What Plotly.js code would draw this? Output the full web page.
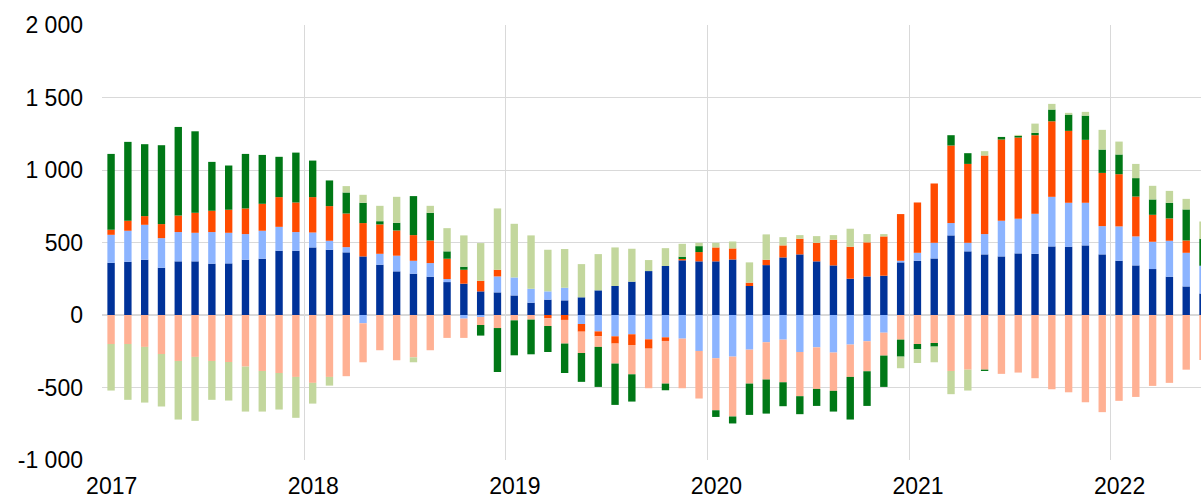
<!DOCTYPE html>
<html>
<head>
<meta charset="utf-8">
<script src="https://cdn.plot.ly/plotly-3.0.1.min.js"></script>
<style>html,body{margin:0;padding:0;background:#fff;}#chart{width:1201px;height:499px;}</style>
</head>
<body>
<div id="chart"></div>
<script>
// Monthly data, Jan 2017 – Jun 2022
const startYear = 2017;
const yearLabels = ['2017', '2018', '2019', '2020', '2021', '2022'];

const darkBlue = [360,367,381,326,370,370,354,356,381,388,443,443,
  466,450,432,404,347,301,285,264,227,216,163,156,
  135,85,106,101,122,170,200,230,303,338,377,370,
  370,383,200,344,397,418,370,342,250,266,271,363,
  374,390,549,439,418,404,425,422,473,471,480,418,
  374,342,317,264,197,149];

const lightBlue = [193,214,241,204,202,197,218,211,177,193,165,129,
  103,62,36,-57,75,108,89,94,21,-25,-14,110,
  124,96,57,87,-62,-113,-147,-133,-168,-154,-163,-248,
  -298,-287,-239,-188,-170,-255,-223,-259,-204,-181,-122,11,
  55,108,85,59,140,246,239,276,342,303,294,195,
  237,200,188,248,232,191];

const orange = [35,69,60,97,114,138,147,159,177,186,205,204,
  244,239,232,230,203,174,177,156,140,96,73,46,
  0,0,-23,-34,-53,-34,-50,-74,-64,-25,9,64,
  96,76,23,37,83,108,128,177,221,235,271,322,
  347,409,535,544,542,560,560,542,521,496,434,367,
  360,275,186,154,85,0];

const salmon = [-200,-200,-220,-269,-317,-289,-317,-324,-356,-386,-400,-427,
  -468,-427,-422,-269,-243,-312,-292,-243,-158,-133,-55,-90,
  -37,-32,-53,-163,-147,-73,-138,-202,-273,-294,-342,-328,
  -359,-413,-234,-257,-294,-305,-287,-264,-223,-207,-158,-170,
  -200,-193,-386,-377,-377,-406,-397,-436,-512,-533,-602,-670,
  -592,-565,-489,-468,-377,-310];

const darkGreen = [523,544,496,544,611,562,337,305,376,337,278,344,
  252,177,145,140,22,53,269,191,51,21,-73,-303,
  -241,-239,-179,-203,-199,-276,-285,-188,0,-46,16,41,
  -46,-48,-216,-235,-165,-124,-117,-143,-294,-239,-216,-117,
  -36,-25,71,74,-9,18,11,16,81,112,167,161,
  136,127,106,108,214,186];

const lightGreen = [-321,-385,-384,-362,-404,-441,-268,-266,-310,-280,-252,-282,
  -143,-60,44,55,106,179,-34,48,160,216,260,423,
  370,368,287,267,229,250,266,227,76,123,89,23,
  32,48,140,175,57,25,46,32,124,57,16,-80,
  -95,-108,-160,-144,30,0,7,64,39,12,26,136,
  89,98,94,82,73,119];

const months = darkBlue.map((_, i) => {
  const y = startYear + Math.floor(i / 12);
  const m = (i % 12) + 1;
  return y + '-' + String(m).padStart(2, '0');
});
const xIdx = months.map((_, i) => i);

const series = [
  {name: 'dark blue', y: darkBlue, color: '#003299'},
  {name: 'light blue', y: lightBlue, color: '#8cb4ff'},
  {name: 'orange', y: orange, color: '#ff4b00'},
  {name: 'salmon', y: salmon, color: '#ffb194'},
  {name: 'dark green', y: darkGreen, color: '#007816'},
  {name: 'light green', y: lightGreen, color: '#c3d79d'}
];

const traces = series.map(s => ({
  type: 'bar',
  x: xIdx,
  y: s.y,
  name: s.name,
  customdata: months,
  width: 0.44,
  marker: {color: s.color, line: {width: 0}},
  hovertemplate: '%{customdata}: %{y}<extra>' + s.name + '</extra>'
}));

const yTicks = [-1000, -500, 0, 500, 1000, 1500, 2000];
const yTickText = ['-1 000', '-500', '0', '500', '1 000', '1 500', '2 000'];
const xTicks = yearLabels.map((_, k) => -0.5 + 12 * k);

const layout = {
  width: 1201,
  height: 499,
  margin: {l: 102, r: 0, t: 25, b: 39},
  barmode: 'relative',
  showlegend: false,
  paper_bgcolor: '#ffffff',
  plot_bgcolor: '#ffffff',
  font: {family: 'Liberation Sans, Arial, sans-serif', size: 23, color: '#000000'},
  xaxis: {
    range: [-0.54, 64.88],
    tickmode: 'array',
    tickvals: xTicks,
    ticktext: yearLabels,
    showgrid: true,
    gridcolor: '#d9d9d9',
    gridwidth: 1,
    zeroline: false,
    showline: false,
    ticks: '',
    ticklabelshift: 9,
    ticklabelstandoff: 10,
    tickfont: {size: 23}
  },
  yaxis: {
    range: [-1000, 2000],
    tickmode: 'array',
    tickvals: yTicks,
    ticktext: yTickText,
    showgrid: true,
    gridcolor: '#d9d9d9',
    gridwidth: 1,
    zeroline: true,
    zerolinecolor: '#d9d9d9',
    zerolinewidth: 2,
    showline: false,
    ticks: '',
    ticklabelstandoff: 18,
    tickfont: {size: 23}
  }
};

Plotly.newPlot('chart', traces, layout, {displayModeBar: false, staticPlot: true});
</script>
</body>
</html>
